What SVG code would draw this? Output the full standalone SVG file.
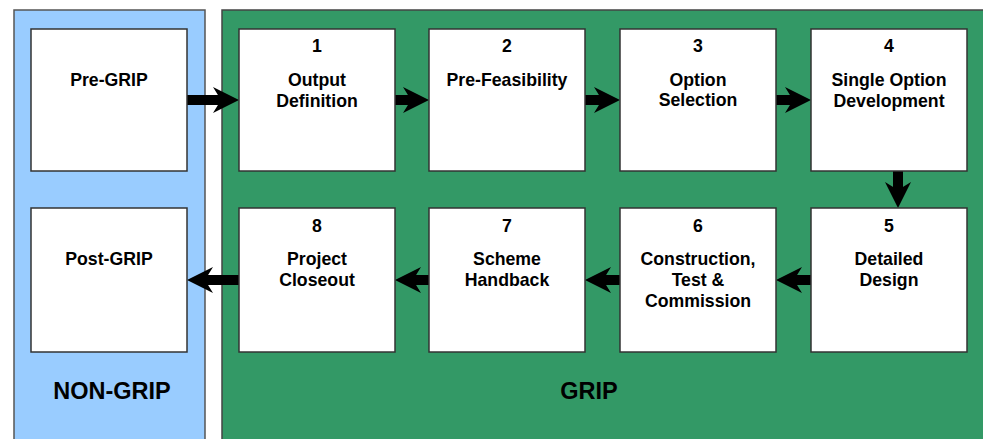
<svg xmlns="http://www.w3.org/2000/svg" width="983" height="439" viewBox="0 0 983 439">
<defs>
<style>
.bg{fill:#ffffff}
.nongrip{fill:#99ccff;stroke:#555555;stroke-width:1.5}
.grip{fill:#339966;stroke:#444444;stroke-width:1.5}
.box{fill:#ffffff;stroke:#333333;stroke-width:1.5}
.t{font-family:"Liberation Sans",Arial,sans-serif;font-weight:bold;font-size:17.7px;fill:#000000;text-anchor:middle}
.big{font-family:"Liberation Sans",Arial,sans-serif;font-weight:bold;font-size:23.5px;fill:#000000;text-anchor:middle}
.conn{stroke:#000000;stroke-width:10;fill:none;marker-end:url(#head)}
</style>
<marker id="head" viewBox="0 0 26 26" refX="13" refY="13" markerWidth="26" markerHeight="26" markerUnits="userSpaceOnUse" orient="auto">
<path d="M0,0 L26,13 L0,26 L8,13 Z" fill="#000000"/>
</marker>
</defs>
<rect class="bg" x="0" y="0" width="983" height="439"/>
<g id="panel-nongrip">
<rect class="nongrip" x="14" y="10" width="191" height="440"/>
<text class="big" x="112" y="399">NON-GRIP</text>
</g>
<g id="panel-grip">
<rect class="grip" x="222" y="10" width="780" height="440"/>
<text class="big" x="589" y="399">GRIP</text>
</g>
<g id="connectors">
<line class="conn" x1="187" y1="100" x2="226" y2="100"/>
<line class="conn" x1="395" y1="100" x2="416" y2="100"/>
<line class="conn" x1="585" y1="100" x2="607" y2="100"/>
<line class="conn" x1="776" y1="100" x2="798" y2="100"/>
<line class="conn" x1="898" y1="171" x2="898" y2="195"/>
<line class="conn" x1="811" y1="280" x2="789" y2="280"/>
<line class="conn" x1="620" y1="280" x2="598" y2="280"/>
<line class="conn" x1="429" y1="280" x2="408" y2="280"/>
<line class="conn" x1="239" y1="280" x2="200" y2="280"/>
</g>
<g id="pre-grip">
<rect class="box" x="31" y="29" width="156" height="142"/>
<text class="t" x="109" y="86">Pre-GRIP</text>
</g>
<g id="step1">
<rect class="box" x="239" y="29" width="156" height="142"/>
<text class="t" x="317" y="52">1</text>
<text class="t" x="317" y="86">Output</text>
<text class="t" x="317" y="107">Definition</text>
</g>
<g id="step2">
<rect class="box" x="429" y="29" width="156" height="142"/>
<text class="t" x="507" y="52">2</text>
<text class="t" x="507" y="86">Pre-Feasibility</text>
</g>
<g id="step3">
<rect class="box" x="620" y="29" width="156" height="142"/>
<text class="t" x="698" y="52">3</text>
<text class="t" x="698" y="86">Option</text>
<text class="t" x="698" y="106">Selection</text>
</g>
<g id="step4">
<rect class="box" x="811" y="29" width="156" height="142"/>
<text class="t" x="889" y="52">4</text>
<text class="t" x="889" y="86">Single Option</text>
<text class="t" x="889" y="107">Development</text>
</g>
<g id="step5">
<rect class="box" x="811" y="208" width="156" height="144"/>
<text class="t" x="889" y="232">5</text>
<text class="t" x="889" y="265">Detailed</text>
<text class="t" x="889" y="286">Design</text>
</g>
<g id="step6">
<rect class="box" x="620" y="208" width="156" height="144"/>
<text class="t" x="698" y="232">6</text>
<text class="t" x="698" y="265">Construction,</text>
<text class="t" x="698" y="286">Test &amp;</text>
<text class="t" x="698" y="307">Commission</text>
</g>
<g id="step7">
<rect class="box" x="429" y="208" width="156" height="144"/>
<text class="t" x="507" y="232">7</text>
<text class="t" x="507" y="265">Scheme</text>
<text class="t" x="507" y="286">Handback</text>
</g>
<g id="step8">
<rect class="box" x="239" y="208" width="156" height="144"/>
<text class="t" x="317" y="232">8</text>
<text class="t" x="317" y="265">Project</text>
<text class="t" x="317" y="286">Closeout</text>
</g>
<g id="post-grip">
<rect class="box" x="31" y="208" width="156" height="144"/>
<text class="t" x="109" y="265">Post-GRIP</text>
</g>
</svg>
